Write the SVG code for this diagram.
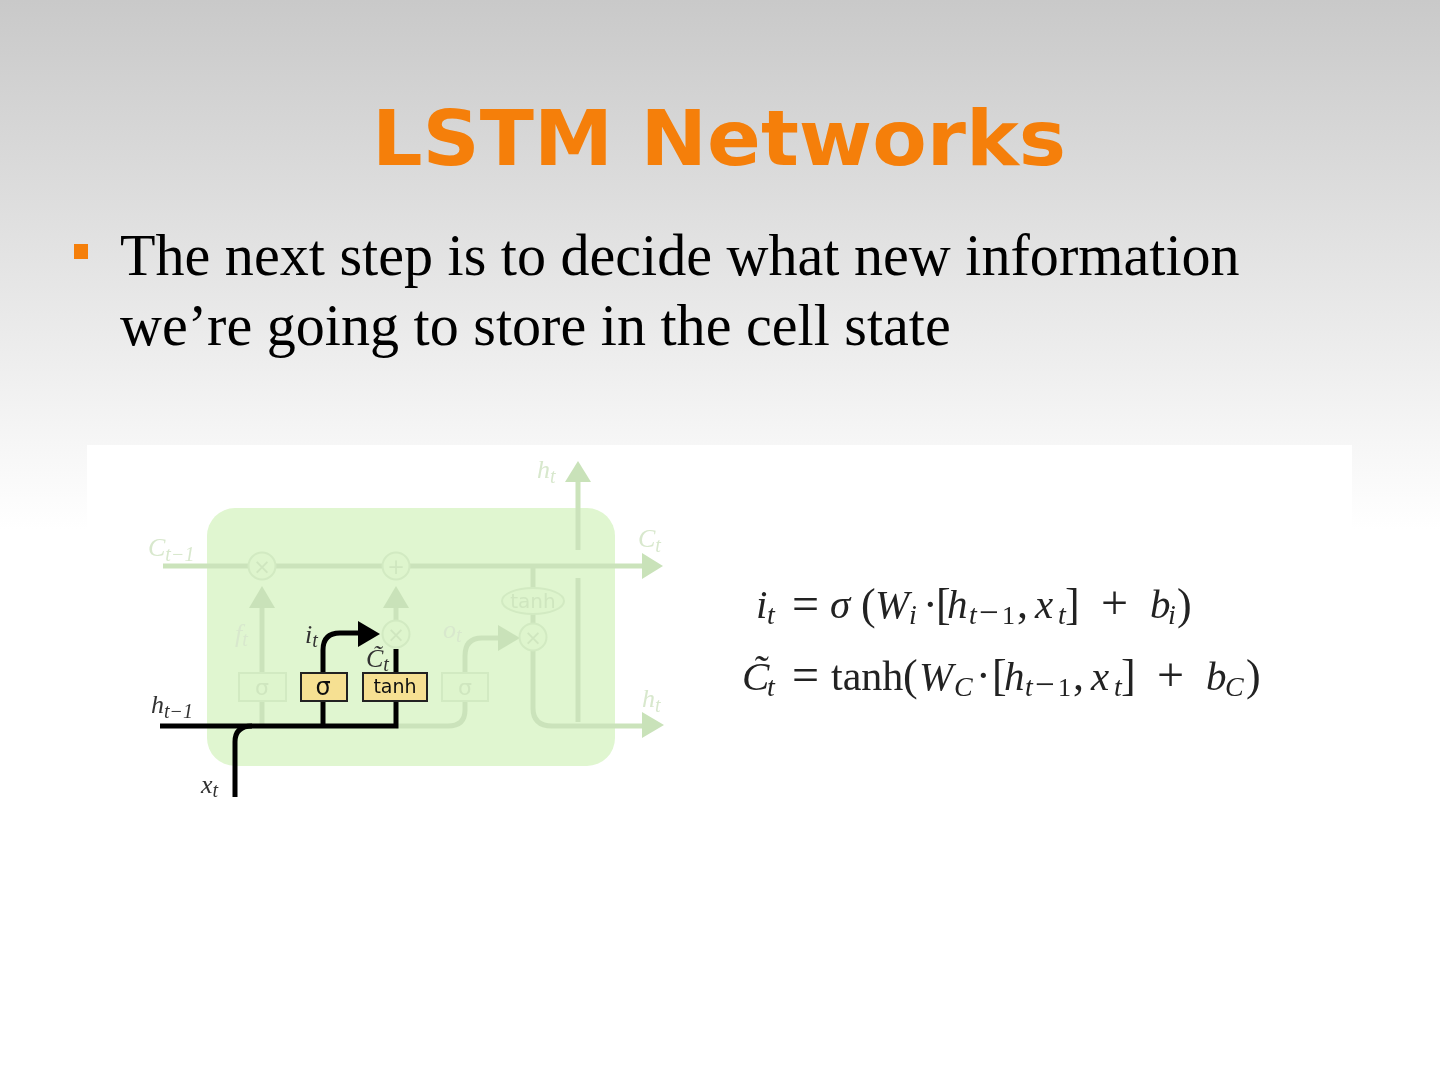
<svg xmlns="http://www.w3.org/2000/svg" width="1440" height="1080" viewBox="0 0 1440 1080">
<style>
.m{font-family:"Liberation Serif",serif;font-size:44px;fill:#222}
.w{font-family:"Liberation Serif",serif;font-size:42px;fill:#222}
.o{font-family:"Liberation Serif",serif;font-size:48px;fill:#222}
.mi{font-family:"Liberation Serif",serif;font-style:italic;font-size:41px;fill:#222}
.s{font-family:"Liberation Serif",serif;font-size:26px;fill:#222}
.sm{font-family:"Liberation Serif",serif;font-size:35px;fill:#222}
.si{font-family:"Liberation Serif",serif;font-style:italic;font-size:28px;fill:#222}
.fl{font-family:"Liberation Serif",serif;font-style:italic;font-size:26px;fill:#d8e8cd}
.fs{font-size:20px}
.dl{font-family:"Liberation Serif",serif;font-style:italic;font-size:26px;fill:#333}
.ds{font-size:20px}
.fc{fill:none;stroke:#cbe3bb;stroke-width:5}
.fa{fill:#c9e2b9}
.fb{fill:#def5cd;stroke:#d2eac2;stroke-width:2}
.ft{font-family:"DejaVu Sans",sans-serif;fill:#cfe6bf;text-anchor:middle}
.dc{fill:none;stroke:#000;stroke-width:5}
.db{fill:#f6e092;stroke:#222;stroke-width:2}
.dt{font-family:"DejaVu Sans",sans-serif;fill:#111;text-anchor:middle}
</style>
<defs>
<linearGradient id="bg" x1="0" y1="0" x2="0" y2="1"><stop offset="0" stop-color="#c9c9c9"/><stop offset="1" stop-color="#fff"/></linearGradient>
<filter id="soft" x="0" y="0" width="1" height="1"><feGaussianBlur stdDeviation="0.6"/></filter>
</defs>
<rect width="1440" height="1080" fill="#fff"/>
<rect width="1440" height="530" fill="url(#bg)"/>
<text x="372" y="165" font-family="DejaVu Sans, sans-serif" font-weight="700" font-size="77" fill="#f57f0a" textLength="694" lengthAdjust="spacingAndGlyphs">LSTM Networks</text>
<rect x="74" y="244" width="14" height="15" fill="#f57f0a"/>
<text font-family="Liberation Serif, serif" font-size="58.1" fill="#000"><tspan x="120" y="275">The next step is to decide what new information</tspan><tspan x="120" y="345">we’re going to store in the cell state</tspan></text>
<rect x="87" y="445" width="1265" height="375" fill="#fff"/>
<g filter="url(#soft)">
<g id="cell"><rect x="207" y="508" width="408" height="258" rx="28" fill="#e0f6d0"/></g>
<g id="connectors">
<path class="fc" d="M163 566H645"/>
<path class="fc" d="M262 606V726M396 606V622"/>
<path class="fc" d="M396 726H448Q465 726 465 710V656Q465 638 482 638H500"/>
<path class="fc" d="M533 566V624M533 650V708Q533 726 552 726H645"/>
<path class="fc" d="M578 722V578M578 550V480"/>
<polygon class="fa" points="663,566 642,553 642,579"/>
<polygon class="fa" points="664,725 642,712 642,738"/>
<polygon class="fa" points="578,461 565,482 591,482"/>
<polygon class="fa" points="262,586 249,608 275,608"/>
<polygon class="fa" points="396,586 383,608 409,608"/>
<polygon class="fa" points="520,638 498,625 498,651"/>
<path class="dc" d="M160 726H396V649"/>
<path class="dc" d="M323 726V650Q323 633 340 633H360"/>
<path class="dc" d="M235 797V742Q235 726 252 726"/>
<polygon fill="#000" points="380,634 358,621 358,647"/>
</g>
<g id="node-forget-x"><circle cx="262" cy="566" r="13.5" class="fb"/><text x="262" y="574" font-size="21" class="ft">×</text></g>
<g id="node-plus"><circle cx="396" cy="566" r="13.5" class="fb"/><text x="396" y="574" font-size="21" class="ft">+</text></g>
<g id="node-candidate-x"><circle cx="396" cy="634" r="13.5" class="fb"/><text x="396" y="642" font-size="21" class="ft">×</text></g>
<g id="node-output-x"><circle cx="533" cy="637" r="13.5" class="fb"/><text x="533" y="645" font-size="21" class="ft">×</text></g>
<g id="node-output-tanh"><ellipse cx="533" cy="601" rx="31" ry="13" class="fb"/><text x="533" y="608" font-size="20" class="ft">tanh</text></g>
<g id="node-forget-sigma"><rect x="239" y="673" width="47" height="28" class="fb"/><text x="262" y="695" font-size="22" class="ft">σ</text></g>
<g id="node-output-sigma"><rect x="442" y="673" width="46" height="28" class="fb"/><text x="465" y="695" font-size="22" class="ft">σ</text></g>
<g id="node-input-sigma"><rect x="301" y="673" width="46" height="28" class="db"/><text x="323" y="695" font-size="24" class="dt">σ</text></g>
<g id="node-input-tanh"><rect x="363" y="673" width="64" height="28" class="db"/><text x="395" y="693" font-size="19" class="dt">tanh</text></g>
<g id="labels">
<text x="148" y="556" class="fl">C<tspan class="fs" dy="5">t−1</tspan></text>
<text x="638" y="547" class="fl">C<tspan class="fs" dy="5">t</tspan></text>
<text x="537" y="478" class="fl">h<tspan class="fs" dy="5">t</tspan></text>
<text x="642" y="707" class="fl">h<tspan class="fs" dy="5">t</tspan></text>
<text x="235" y="642" class="fl">f<tspan class="fs" dy="4">t</tspan></text>
<text x="443" y="638" class="fl">o<tspan class="fs" dy="4">t</tspan></text>
<text x="151" y="713" class="dl">h<tspan class="ds" dy="5">t−1</tspan></text>
<text x="305" y="643" class="dl">i<tspan class="ds" dy="4">t</tspan></text>
<text x="366" y="667" class="dl">C̃<tspan class="ds" dy="4">t</tspan></text>
<text x="201" y="793" class="dl">x<tspan class="ds" dy="4">t</tspan></text>
</g>
<g id="equations">
<text x="756" y="618" class="mi">i</text><text x="767" y="624" class="si">t</text>
<text x="792" y="620" class="o">=</text><text x="830" y="618" class="mi">σ</text>
<text x="861" y="619" class="m">(</text><text x="875" y="618" class="mi">W</text><text x="909" y="624" class="si">i</text>
<text x="923" y="619" class="m">·</text><text x="936" y="619" class="m">[</text><text x="947" y="618" class="mi">h</text>
<text x="969" y="624" class="si">t</text><text x="979" y="624" class="sm">−</text><text x="1002" y="624" class="s">1</text><text x="1017" y="618" class="m">,</text>
<text x="1035" y="618" class="mi">x</text><text x="1058" y="624" class="si">t</text><text x="1065" y="619" class="m">]</text>
<text x="1101" y="619" class="o">+</text><text x="1150" y="618" class="mi">b</text><text x="1168" y="624" class="si">i</text><text x="1177" y="619" class="m">)</text>
<text x="742" y="690" class="mi">C̃</text><text x="767" y="696" class="si">t</text>
<text x="792" y="691" class="o">=</text><text x="831" y="690" class="w">tanh</text><text x="903" y="690" class="m">(</text><text x="919" y="690" class="mi">W</text><text x="954" y="696" class="si">C</text>
<text x="976" y="690" class="m">·</text><text x="992" y="690" class="m">[</text><text x="1004" y="690" class="mi">h</text>
<text x="1025" y="696" class="si">t</text><text x="1035" y="696" class="sm">−</text><text x="1058" y="696" class="s">1</text><text x="1073" y="690" class="m">,</text>
<text x="1091" y="690" class="mi">x</text><text x="1114" y="696" class="si">t</text><text x="1121" y="690" class="m">]</text>
<text x="1157" y="691" class="o">+</text><text x="1206" y="690" class="mi">b</text><text x="1225" y="696" class="si">C</text><text x="1246" y="690" class="m">)</text>
</g>
</g>
</svg>
